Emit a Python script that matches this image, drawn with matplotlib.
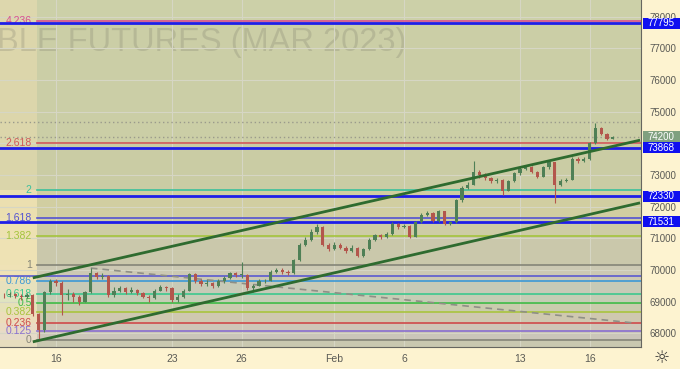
import matplotlib
matplotlib.use("Agg")
import matplotlib.pyplot as plt
from matplotlib.patches import Rectangle

# 4 bars per trading day, bar 0 = first bar of Jan 16
start_bar = -9
first_open = 69220
closes = [69200, 69250, 69180, 69150, 69220, 68600, 68100, 69300, 69650,
          69600, 69200, 69250, 69150, 69000, 69300, 69900, 69780, 69820, 69200,
          69350, 69420, 69300, 69380, 69260, 69150, 69100, 69350, 69460, 69430,
          69050, 69150, 69350, 69880, 69650, 69550, 69600, 69480, 69650, 69750,
          69900, 69850, 69850, 69420, 69500, 69650, 69660, 69950, 70000, 69950,
          69900, 70300, 70800, 70950, 71200, 71350, 70800, 70650, 70800, 70700,
          70600, 70700, 70450, 70650, 70950, 71100, 71050, 71150, 71450, 71350,
          71400, 71050, 71500, 71750, 71800, 71550, 71850, 71450, 71500, 72200,
          72600, 72700, 73100, 73000, 72900, 72800, 72850, 72500, 72800, 73050,
          73200, 73250, 73100, 72950, 73250, 73400, 72700, 72800, 72850, 73500,
          73450, 73500, 74000, 74500, 74300, 74150, 74200]
highs = [69280, 69300, 69280, 69230, 69260, 69230, 68650, 69350, 69700,
         69720, 69650, 69400, 69300, 69200, 69350, 70060, 69950, 69900, 69850,
         69450, 69500, 69450, 69450, 69400, 69300, 69200, 69400, 69520, 69500,
         69450, 69250, 69400, 69920, 69900, 69700, 69680, 69620, 69700, 69800,
         69950, 69950, 70250, 69870, 69560, 69700, 69720, 70000, 70060, 70050,
         70000, 70350, 70850, 71050, 71280, 71450, 71380, 70850, 70870, 70850,
         70750, 70780, 70720, 70700, 71000, 71150, 71150, 71200, 71500, 71480,
         71460, 71420, 71550, 71800, 71850, 71820, 71900, 71870, 71560, 72250,
         72650, 72780, 73450, 73150, 73050, 72950, 72920, 72870, 72850, 73100,
         73260, 73300, 73280, 73120, 73300, 73420, 73380, 72880, 72920, 73560,
         73570, 73560, 74050, 74640, 74520, 74330, 74230]
lows = [69120, 69150, 69120, 69050, 69100, 68550, 67780, 68050, 69250,
        69500, 68580, 69050, 69000, 68900, 68980, 69280, 69700, 69720, 69150,
        69150, 69300, 69250, 69280, 69200, 69100, 69000, 69080, 69330, 69350,
        68980, 69000, 69120, 69330, 69600, 69480, 69500, 69420, 69450, 69600,
        69720, 69780, 69750, 69380, 69300, 69480, 69600, 69640, 69900, 69880,
        69850, 69880, 70280, 70750, 70900, 71150, 70750, 70600, 70620, 70650,
        70550, 70580, 70400, 70420, 70630, 70900, 70980, 71020, 71120, 71300,
        71320, 71000, 71030, 71480, 71700, 71500, 71530, 71420, 71430, 71480,
        72150, 72550, 72680, 72900, 72850, 72750, 72760, 72370, 72480, 72780,
        73000, 73150, 73050, 72900, 72930, 73200, 72120, 72650, 72780, 72830,
        73380, 73400, 73480, 73980, 74250, 74100, 74130]

tick_bars = [0, 20, 32, 48, 60, 80, 92]
tick_labels = ["16", "23", "26", "Feb", "6", "13", "16"]
price_ticks = [68000, 69000, 70000, 71000, 72000, 73000, 75000, 76000, 77000, 78000]

fib_low = 67773
fib_high = 70155
fib_start = -3.3
fib_ratios = [0, 0.125, 0.236, 0.382, 0.5, 0.618, 0.786, 1, 1.382, 1.618, 2, 2.618, 4.236]
fib_names = ["0", "0.125", "0.236", "0.382", "0.5", "0.618", "0.786", "1", "1.382", "1.618", "2", "2.618", "4.236"]
fib_colors = ["#858578", "#8a6fd0", "#cf4a4a", "#a9c43e", "#3dbb45", "#3cc88e", "#3c98d6",
              "#858578", "#a4c43c", "#5353d2", "#3cc09c", "#d05858", "#d9508f"]

# colours of the bands between levels (bottom to top), left of the fib and inside it
band_left = ["#e6ddbe", "#e6dbc8", "#eadbc3", "#ecddbb", "#e6e1b8", "#e0e4c0", "#e7e1bd",
             "#efe2b6", "#eee2b4", "#ede1b2", "#ebdfb0", "#dad5aa", "#dcd6ab", "#ddd7ad"]
band_main = ["#c9c8b0", "#cbc6b9", "#cfc6b7", "#cfc8b0", "#c9ccad", "#c4cdb5", "#c7cab7",
             "#ccc9b3", "#cac8ab", "#cdcca5", "#d1cea1", "#caccA4", "#cbcea6", "#ccd0a8"]

levels_blue = [77795, 73868, 72330, 71531]
level_thin = 69819
last_price = 74200
high_price = 74665

upper_channel = ([-4, 100.7], [69750, 74100])
lower_channel = ([-4, 100.7], [67730, 72120])
dash_trend = ([6, 100], [70060, 68320])

xmin, xmax = -9.655, 100.86
ymin, ymax = 67567, 78528

plt.rcParams["font.family"] = ["Liberation Sans", "DejaVu Sans"]

fig = plt.figure(figsize=(6.8, 3.69), dpi=100, facecolor="#fdf3d0")
ax = fig.add_axes([0, 22 / 369, 641 / 680, 347 / 369])
ax.set_xlim(xmin, xmax)
ax.set_ylim(ymin, ymax)

# background bands
edges = [ymin] + [fib_low + r * (fib_high - fib_low) for r in fib_ratios] + [ymax]
for k in range(len(edges) - 1):
    ax.fill_between([xmin, fib_start], edges[k], edges[k + 1], color=band_left[k], lw=0, zorder=0)
    ax.fill_between([fib_start, xmax], edges[k], edges[k + 1], color=band_main[k], lw=0, zorder=0)

ax.text(-3 / 641, 0.878, "BLE FUTURES (MAR 2023)", transform=ax.transAxes, fontsize=23.5,
        color="#7a7a6a", alpha=0.25, va="center", ha="left", zorder=0.5)

for p in range(68000, 79000, 1000):
    ax.axhline(p, color="#d6d6c4", lw=0.8, zorder=0.6)
for b in tick_bars:
    ax.axvline(b, color="#d6d6c4", lw=0.8, zorder=0.6)

# fib levels and labels
for r, name, c in zip(fib_ratios, fib_names, fib_colors):
    v = fib_low + r * (fib_high - fib_low)
    ax.plot([fib_start, xmax], [v, v], color=c, lw=1.2, zorder=1.5)
    ax.text(-4.2, v, name, color=c, fontsize=7.5, ha="right", va="center", zorder=1.6)

ax.axhline(level_thin, color="#5a5ad0", lw=1.2, zorder=1.7)
for v in levels_blue:
    ax.axhline(v, color="#1e1ee8", lw=2, zorder=1.8)
for v in [high_price, last_price]:
    ax.axhline(v, color="#9a9a8c", lw=1, ls=(0, (1, 2)), zorder=1.8)

ax.plot(*dash_trend, color="#8f8f86", lw=1.2, ls=(0, (4, 3)), zorder=2)

# candles
opens = [first_open] + closes[:-1]
for n in range(len(closes)):
    x = start_bar + n
    o, c = opens[n], closes[n]
    col = "#4f8056" if c >= o else "#b3564c"
    ax.vlines(x, lows[n], highs[n], color=col, lw=0.8, zorder=3)
    ax.bar(x, max(abs(c - o), 12), bottom=min(o, c), width=0.55, color=col, lw=0, zorder=3)

ax.plot(*upper_channel, color="#2e6b2f", lw=2, zorder=4, solid_capstyle="butt")
ax.plot(*lower_channel, color="#2e6b2f", lw=2, zorder=4, solid_capstyle="butt")

# axes styling
for s in ["top", "left"]:
    ax.spines[s].set_visible(False)
ax.spines["right"].set_color("#666660")
ax.spines["bottom"].set_color("#666660")
ax.yaxis.tick_right()
ax.set_yticks(price_ticks)
ax.tick_params(axis="y", length=0, pad=6, labelsize=7, labelcolor="#5a5a55")
ax.set_xticks(tick_bars)
ax.set_xticklabels(tick_labels)
ax.tick_params(axis="x", length=0, pad=5, labelsize=7.5, labelcolor="#5a5a55")

# price boxes on the right scale
ytr = ax.get_yaxis_transform()
box_h = 360
for v, fc in [(last_price, "#7fa07f")] + [(v, "#0f0ff0") for v in levels_blue]:
    ax.add_patch(Rectangle((1.0025, v - box_h / 2), 0.06, box_h, transform=ytr, fc=fc, ec="none",
                           clip_on=False, zorder=5))
    ax.text(1.0312, v, str(v), transform=ytr, ha="center", va="center", color="white", fontsize=7,
            clip_on=False, zorder=6)

fig.text(662 / 680, 11 / 369, "\u263c", fontsize=13, color="#333333", ha="center", va="center",
         family="DejaVu Sans")

fig.savefig("out.png", dpi=100, facecolor=fig.get_facecolor())
